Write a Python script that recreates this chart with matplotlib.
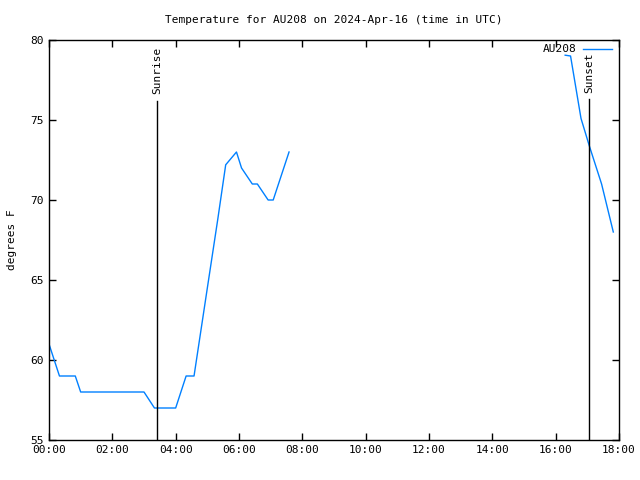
import matplotlib
matplotlib.use("Agg")
import matplotlib.pyplot as plt
import numpy as np

plt.rcParams.update({
    "font.family": "DejaVu Sans Mono",
    "font.size": 8,
})

# times in hours UTC, temperature in degrees F
morning_hours = [0.0, 0.33, 0.83, 1.0, 1.5, 2.0, 2.5, 3.0, 3.33, 3.67, 4.0,
                 4.33, 4.58, 5.0, 5.33, 5.58, 5.75, 5.92, 6.08, 6.42, 6.58,
                 6.92, 7.08, 7.58]
morning_temp = [61, 59, 59, 58, 58, 58, 58, 58, 57, 57, 57,
                59, 59, 64.5, 68.8, 72.2, 72.6, 73, 72, 71, 71,
                70, 70, 73]
evening_hours = [16.3, 16.47, 16.8, 17.06, 17.45, 17.82]
evening_temp = [79.05, 79, 75.1, 73.4, 71, 68]

sunrise = 3.42
sunset = 17.05

xticks = np.arange(0, 19, 2)
xticklabels = [f"{h:02d}:00" for h in xticks]
yticks = [55, 60, 65, 70, 75, 80]

fig = plt.figure(figsize=(6.4, 4.8), dpi=100)
ax = fig.add_axes([49 / 640, 40 / 480, 570 / 640, 400 / 480])

color = "#0080ff"
ax.plot(morning_hours, morning_temp, color=color, lw=1, label="AU208")
ax.plot(evening_hours, evening_temp, color=color, lw=1)

for t, name, top in [(sunrise, "Sunrise", 76.2), (sunset, "Sunset", 76.3)]:
    ax.plot([t, t], [55, top], color="black", lw=1)
    ax.text(t, top + 0.4, name, rotation=90, ha="center", va="bottom",
            fontsize=8)

ax.set_xlim(0, 18)
ax.set_ylim(55, 80)
ax.set_xticks(xticks)
ax.set_xticklabels(xticklabels)
ax.set_yticks(yticks)
ax.tick_params(direction="in", top=True, right=True, length=5, width=1)
for s in ax.spines.values():
    s.set_linewidth(1)

ax.set_ylabel("degrees F")
ax.yaxis.set_label_coords(-0.057, 0.5)
ax.set_title("Temperature for AU208 on 2024-Apr-16 (time in UTC)",
             fontsize=8, pad=12)

leg = ax.legend(loc="upper right", bbox_to_anchor=(0.995, 1.0),
                frameon=False, handlelength=2.6, markerfirst=False,
                borderaxespad=0.0, handletextpad=0.6)

fig.savefig("out.png", dpi=100)
